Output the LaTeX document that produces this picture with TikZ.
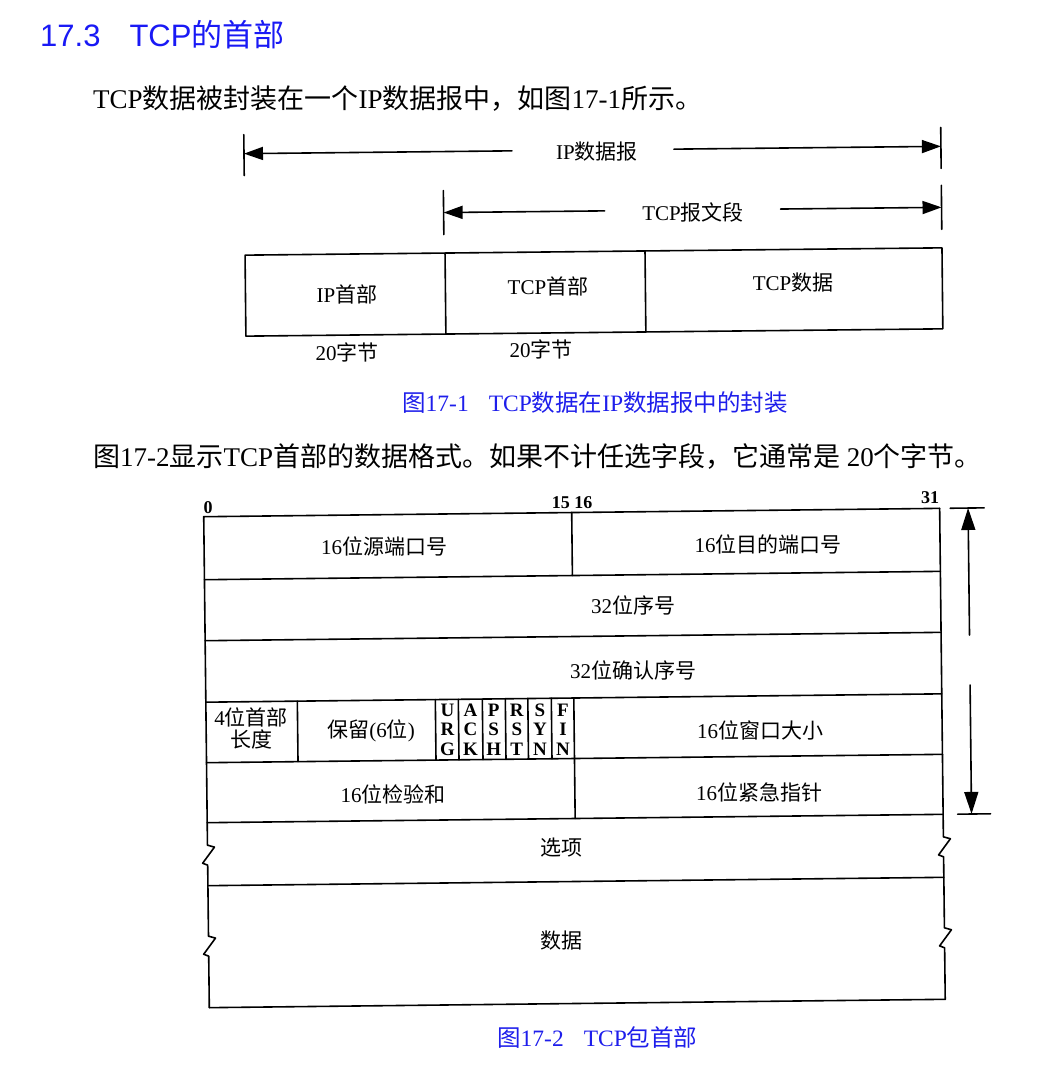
\documentclass[tikz,border=0pt]{standalone}
\usepackage{fontspec}
\setmainfont{Liberation Serif}
\newfontfamily\cjk{Noto Sans CJK SC}
\newfontfamily\hsans{Liberation Sans}
\usetikzlibrary{arrows.meta}
\newcommand\fsz[1]{\fontsize{#1}{#1}\selectfont}
\newcommand\zh[1]{{\cjk #1}}
\definecolor{titleblue}{RGB}{25,25,245}
\definecolor{capblue}{RGB}{30,30,235}
\begin{document}
\begin{tikzpicture}[x=1pt,y=-1pt,
  ln/.style={line width=1.6pt, line cap=round, line join=round},
  arr/.style={ln, -{Triangle[length=19pt,width=13pt]}},
  varr/.style={ln, -{Triangle[length=22pt,width=14pt]}},
  lab/.style={inner sep=0pt, font=\fsz{21}, text height=16pt, text depth=1pt},
  flag/.style={inner sep=0pt, font=\fsz{19}\bfseries, anchor=base},
  bit/.style={inner sep=0pt, font=\fsz{18}\bfseries, anchor=base},
  body/.style={inner sep=0pt, font=\fsz{27}, anchor=base west},
  capt/.style={inner sep=0pt, font=\fsz{23.5}, anchor=base west, text=capblue}]
\useasboundingbox (0,0) rectangle (1038,1082);

% ---------- texts of the page ----------
\node[inner sep=0pt, anchor=base west, font=\hsans\fsz{31}, text=titleblue] (title) at (40,46)
  {17.3\hspace{29pt}TCP\zh{的首部}};
\node[body] (p1) at (93,108) {TCP\zh{数据被封装在一个}IP\zh{数据报中，如图}17-1\zh{所示。}};
\node[capt] (c1) at (402,411) {\zh{图}17-1\hspace{20pt}TCP\zh{数据在}IP\zh{数据报中的封装}};
\node[body] (p2) at (93,466) {\zh{图}17-2\zh{显示}TCP\zh{首部的数据格式。如果不计任选字段，它通常是} 20\zh{个字节。}};
\node[capt] (c2) at (497,1046) {\zh{图}17-2\hspace{20pt}TCP\zh{包首部}};

% ---------- figure 17-1 ----------
\begin{scope}[rotate around={0.6:(593,250)}]
  \draw[ln] (245,131) -- (245,172);
  \draw[ln] (942,131) -- (942,172);
  \coordinate (ipL) at (245,150);
  \coordinate (ipR) at (942,150);
  \coordinate (ipa) at (513,150);
  \coordinate (ipb) at (675,150);
  \draw[arr] (ipa) -- (ipL);
  \draw[arr] (ipb) -- (ipR);
  \draw[ln] (444,189) -- (444,233);
  \draw[ln] (942,189) -- (942,233);
  \coordinate (tcL) at (444,211);
  \coordinate (tcR) at (942,211);
  \coordinate (tca) at (605,211);
  \coordinate (tcb) at (781,211);
  \draw[arr] (tca) -- (tcL);
  \draw[arr] (tcb) -- (tcR);
  \draw[ln] (245,251.5) rectangle (942,332.5);
  \draw[ln] (445,251.5) -- (445,332.5);
  \draw[ln] (645,251.5) -- (645,332.5);
\end{scope}
\node[lab] (ipd) at (597,152) {IP\zh{数据报}};
\node[lab] (tcs) at (693,213) {TCP\zh{报文段}};
\node[lab] (iph) at (347,295) {IP\zh{首部}};
\node[lab] (tch) at (548,287) {TCP\zh{首部}};
\node[lab] (tcd) at (793,283) {TCP\zh{数据}};
\node[lab] (b20a) at (347,353) {20\zh{字节}};
\node[lab] (b20b) at (541,350) {20\zh{字节}};

% ---------- figure 17-2 ----------
\begin{scope}[rotate around={0.65:(575,760)}]
  \foreach \yy in {512.5,575.5,636.5,698,758.5,818.5,881.5,1003.5}
    \draw[ln] (206.5,\yy) -- (942.5,\yy);
  \draw[ln] (206.5,512.5) -- (206.5,841) -- ++(7,2) -- ++(-12,16) -- ++(5,2)
    -- (206.5,932) -- ++(7,2) -- ++(-12,16) -- ++(5,2) -- (206.5,1003.5);
  \draw[ln] (942.5,512.5) -- (942.5,841) -- ++(7,2) -- ++(-12,16) -- ++(5,2)
    -- (942.5,932) -- ++(7,2) -- ++(-12,16) -- ++(5,2) -- (942.5,1003.5);
  \draw[ln] (574.5,512.5) -- (574.5,575.5);
  \draw[ln] (574.5,698) -- (574.5,818.5);
  \foreach \xx in {298,436,459,483,506,528.5,552}
    \draw[ln] (\xx,698) -- (\xx,758.5);
  % dimension arrow
  \draw[ln] (953,512.5) -- (987,512.5);
  \draw[ln] (957,818.5) -- (990,818.5);
  \coordinate (dT) at (971,512.5);
  \coordinate (dB) at (971,818.5);
  \coordinate (g1) at (971,639.5);
  \coordinate (g2) at (971,689.5);
  \draw[varr] (g1) -- (dT);
  \draw[varr] (g2) -- (dB);
\end{scope}

\node[bit] (n0) at (208,513) {0};
\node[bit] (n15) at (572,508) {15 16};
\node[bit] (n31) at (930,503) {31};

\node[lab] (sp) at (384,547) {16\zh{位源端口号}};
\node[lab] (dp) at (768,545) {16\zh{位目的端口号}};
\node[lab] (sq) at (633,606) {32\zh{位序号}};
\node[lab] (ak) at (633,671) {32\zh{位确认序号}};
\node[lab] (hl1) at (251,718) {4\zh{位首部}};
\node[lab] (hl2) at (251,740) {\zh{长度}};
\node[lab] (rs) at (371,730) {\zh{保留}(6\zh{位})};
\foreach \a/\b/\c [count=\i from 0] in {U/R/G,A/C/K,P/S/H,R/S/T,S/Y/N,F/I/N}{
  \node[flag] (fa\i) at ({447.5+23.1*\i},716) {\a};
  \node[flag] (fb\i) at ({447.5+23.1*\i},735.5) {\b};
  \node[flag] (fc\i) at ({447.5+23.1*\i},755) {\c};
}
\node[lab] (wn) at (760,731) {16\zh{位窗口大小}};
\node[lab] (ck) at (393,795) {16\zh{位检验和}};
\node[lab] (up) at (759,793) {16\zh{位紧急指针}};
\node[lab] (op) at (561,848) {\zh{选项}};
\node[lab] (da) at (561,941) {\zh{数据}};
\end{tikzpicture}
\end{document}
